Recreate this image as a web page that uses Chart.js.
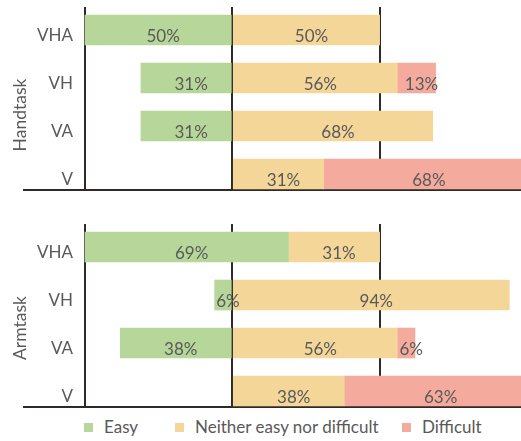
<!DOCTYPE html>
<html>
<head>
<meta charset="utf-8">
<script src="https://cdn.jsdelivr.net/npm/chart.js@4/dist/chart.umd.min.js"></script>
<style>
  html, body { margin: 0; padding: 0; background: #ffffff; }
  #wrap { position: relative; width: 521px; height: 441px; overflow: hidden; font-family: Lato, "Liberation Sans", sans-serif; }
  canvas { position: absolute; left: 0; }
  .ytitle { position: absolute; width: 120px; height: 20px; line-height: 20px; text-align: center;
            font-size: 17.5px; color: #595959; transform: rotate(-90deg); white-space: nowrap; }
  #legend { position: absolute; left: 84px; top: 417px; height: 20px; display: flex; align-items: center;
            font-size: 17px; color: #595959; line-height: 20px; }
  .litem { display: flex; align-items: center; white-space: nowrap; }
  .lbox { width: 9px; height: 9px; margin-right: 11px; }
</style>
</head>
<body>
<div id="wrap">
  <canvas id="c1" width="521" height="192" style="top:0px"></canvas>
  <canvas id="c2" width="521" height="192" style="top:217px"></canvas>
  <div class="ytitle" id="t1" style="left:-40px; top:104.7px;"></div>
  <div class="ytitle" id="t2" style="left:-40px; top:317.5px;"></div>
  <div id="legend"></div>
</div>
<script>
// ---- data ----
const categories = ['VHA', 'VH', 'VA', 'V'];
const seriesNames = ['Easy', 'Neither easy nor difficult', 'Difficult'];
const panelTitles = ['Handtask', 'Armtask'];
const handEasy = [50, 31, 31, 0];
const handNeither = [50, 56, 68, 31];
const handDifficult = [0, 13, 0, 68];
const armEasy = [69, 6, 38, 0];
const armNeither = [31, 94, 56, 38];
const armDifficult = [0, 0, 6, 63];
const xTickValues = [-50, 0, 50];

// ---- styles ----
const colors = ['#b7d69a', '#f5d699', '#f4ab9e'];
const lineColor = '#2f2a27';
const textColor = '#595959';
const fontFamily = 'Lato, "Liberation Sans", sans-serif';
const fontSize = 17;

const labelPlugin = {
  id: 'barLabels',
  afterDatasetsDraw(chart) {
    const ctx = chart.ctx;
    ctx.save();
    ctx.font = fontSize + 'px ' + fontFamily;
    ctx.fillStyle = textColor;
    ctx.textAlign = 'center';
    ctx.textBaseline = 'alphabetic';
    const area = chart.chartArea;
    chart.data.datasets.forEach((ds, di) => {
      const meta = chart.getDatasetMeta(di);
      meta.data.forEach((el, i) => {
        const v = ds.data[i].v;
        const p = el.getProps(['x', 'y', 'base'], true);
        const a = Math.max(Math.min(p.x, p.base), area.left);
        const b = Math.min(Math.max(p.x, p.base), area.right + 6);
        ctx.fillText(v + '%', (a + b) / 2 + 5, p.y + 12);
      });
    });
    ctx.restore();
  }
};

function makePanel(id, easy, neither, difficult) {
  const series = [easy, neither, difficult];
  const starts = easy.map(e => -Math.min(e, 50));
  const datasets = series.map((vals, si) => {
    const pts = [];
    vals.forEach((v, i) => {
      let s = starts[i];
      for (let k = 0; k < si; k++) s += series[k][i];
      if (v) pts.push({ y: i, x: [s, s + v], v: v });
    });
    return {
      label: seriesNames[si],
      backgroundColor: colors[si],
      borderWidth: 0,
      barThickness: 30,
      grouped: false,
      data: pts
    };
  });
  return new Chart(document.getElementById(id), {
    type: 'bar',
    data: { datasets },
    plugins: [labelPlugin],
    options: {
      indexAxis: 'y',
      responsive: false,
      animation: false,
      events: [],
      layout: { padding: { left: 9, right: 0, top: 7, bottom: 2 } },
      plugins: { legend: { display: false }, tooltip: { enabled: false } },
      scales: {
        x: {
          type: 'linear',
          min: -70.68,
          max: 97.97,
          offset: false,
          afterBuildTicks: (s) => { s.ticks = xTickValues.map(v => ({ value: v })); },
          afterFit: (s) => { s.height = 0; s.paddingLeft = 0; s.paddingRight = 0; s.paddingTop = 0; s.paddingBottom = 0; },
          ticks: { display: false },
          grid: { color: lineColor, lineWidth: 2, drawTicks: false, offset: false },
          border: { display: true, color: lineColor, width: 2 }
        },
        y: {
          type: 'linear',
          reverse: true,
          offset: false,
          min: -0.479,
          max: 3.333,
          afterBuildTicks: (s) => { s.ticks = categories.map((c, i) => ({ value: i })); },
          afterFit: (s) => { s.width = 15; s.paddingTop = 0; s.paddingBottom = 0; s.paddingLeft = 0; s.paddingRight = 0; },
          ticks: {
            mirror: true,
            crossAlign: 'far',
            padding: 13,
            labelOffset: 6,
            color: textColor,
            font: { family: fontFamily, size: fontSize },
            callback: (v) => categories[v]
          },
          grid: { display: false, drawTicks: false, offset: false },
          border: { display: false }
        }
      }
    }
  });
}

makePanel('c1', handEasy, handNeither, handDifficult);
makePanel('c2', armEasy, armNeither, armDifficult);

document.getElementById('t1').textContent = panelTitles[0];
document.getElementById('t2').textContent = panelTitles[1];

const itemWidths = [91, 227, 80];
const legend = document.getElementById('legend');
seriesNames.forEach((n, i) => {
  const it = document.createElement('div');
  it.className = 'litem';
  it.style.width = itemWidths[i] + 'px';
  const b = document.createElement('span');
  b.className = 'lbox';
  b.style.background = colors[i];
  const t = document.createElement('span');
  t.textContent = n;
  it.appendChild(b); it.appendChild(t);
  legend.appendChild(it);
});
</script>
</body>
</html>
